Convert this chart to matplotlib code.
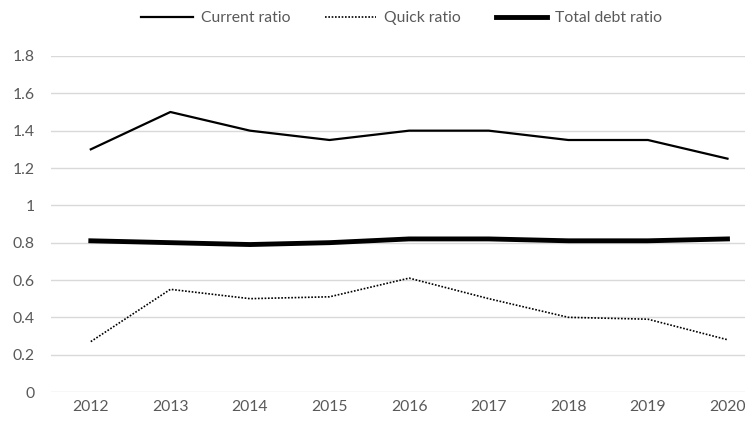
import matplotlib.pyplot as plt

years = ['2012', '2013', '2014', '2015', '2016', '2017', '2018', '2019', '2020']
current_ratio = [1.30, 1.50, 1.40, 1.35, 1.40, 1.40, 1.35, 1.35, 1.25]
quick_ratio = [0.27, 0.55, 0.50, 0.51, 0.61, 0.50, 0.40, 0.39, 0.28]
total_debt_ratio = [0.81, 0.80, 0.79, 0.80, 0.82, 0.82, 0.81, 0.81, 0.82]
y_ticks = [0, 0.2, 0.4, 0.6, 0.8, 1, 1.2, 1.4, 1.6, 1.8]
y_labels = ['0', '0.2', '0.4', '0.6', '0.8', '1', '1.2', '1.4', '1.6', '1.8']

plt.rcParams['font.family'] = ['Lato', 'DejaVu Sans']

fig = plt.figure(figsize=(7.45, 4.23), dpi=100)
ax = fig.add_axes([51/745, 31/423, 694/745, 336/423])

x = range(len(years))
ax.plot(x, current_ratio, color='black', lw=1.6, label='Current ratio')
ax.plot(x, quick_ratio, color='black', lw=1.2, ls=(0, (1, 1)), label='Quick ratio')
ax.plot(x, total_debt_ratio, color='black', lw=3.5, label='Total debt ratio')

ax.set_xlim(-0.5, 8.22)
ax.set_ylim(0, 1.8)
ax.set_yticks(y_ticks)
ax.set_yticklabels(y_labels)
ax.set_xticks(list(x))
ax.set_xticklabels(years)
ax.grid(axis='y', color='#d9d9d9', lw=1)
ax.set_axisbelow(True)
for s in ax.spines.values():
    s.set_visible(False)
ax.tick_params(length=0, labelsize=11.3, colors='#595959')
ax.tick_params(axis='x', pad=6)
ax.tick_params(axis='y', pad=12)

fig.legend(loc='center', bbox_to_anchor=(0.539, 0.957), ncol=3, frameon=False,
           fontsize=11.3, handlelength=3.3, columnspacing=2.2, handletextpad=0.5,
           labelcolor='#595959')

fig.savefig('out.png', dpi=100)
